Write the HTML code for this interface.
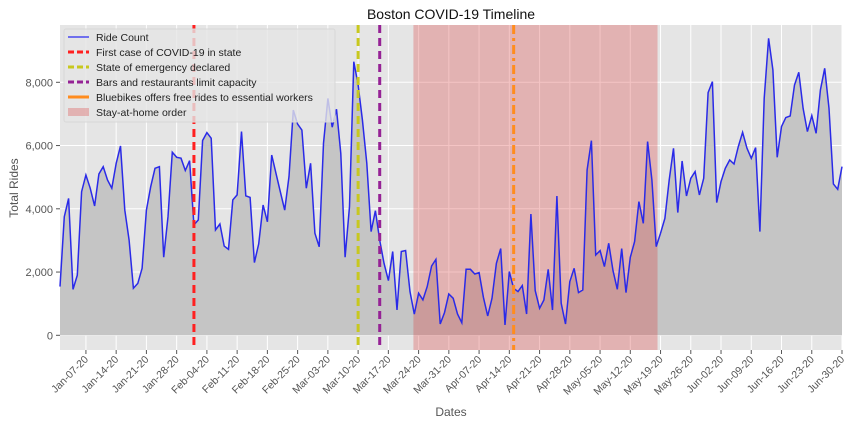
<!DOCTYPE html>
<html><head><meta charset="utf-8"><style>
body{margin:0;background:#fff;font-family:"Liberation Sans","DejaVu Sans",sans-serif;}
svg text{font-family:"Liberation Sans","DejaVu Sans",sans-serif;}
</style></head><body>
<svg id="c" width="868" height="426" viewBox="0 0 868 426" xmlns="http://www.w3.org/2000/svg"></svg>
<script>
const values=[1540,3750,4330,1450,1900,4540,5070,4650,4090,5100,5330,4910,4650,5440,5990,3960,3010,1490,1640,2120,3960,4700,5280,5330,2470,3750,5790,5630,5600,5210,5520,3490,3650,6160,6410,6230,3330,3520,2820,2720,4280,4440,6440,4410,4360,2300,2890,4120,3590,5700,5120,4540,3960,5020,7120,6680,6490,4650,5440,3230,2800,6070,7490,6580,7150,5750,2470,4070,8650,7920,6810,5440,3280,3940,3010,2280,1730,2650,800,2650,2680,1380,670,1330,1120,1540,2190,2400,
358,717,1307,1170,675,400,2087,2087,1939,1982,1202,611,1170,2277,2740,327,2013,1486,1381,1570,675,3837,1412,854,1117,2087,801,4406,1012,358,1697,2119,1349,1433,5228,6155,2540,2677,2171,2909,2045,1454,2740,1349,2466,2962,4227,3541,6124,4912,2804,3225,3700,4912,5913,3879,5512,4406,4964,5175,4437,4964,7673,8021,4195,4859,5281,5544,5418,5966,6419,5913,5597,5934,3278,7494,9391,8390,5628,6598,6883,6935,7915,8316,7178,6440,6946,6387,7757,8443,7178,4785,4617,5333];
const yTicks=[0,2000,4000,6000,8000];
const xTickDays=[6,13,20,27,34,41,48,55,62,69,76,83,90,97,104,111,118,125,132,139,146,153,160,167,174,181];
const xTickLabels=["Jan-07-20","Jan-14-20","Jan-21-20","Jan-28-20","Feb-04-20","Feb-11-20","Feb-18-20","Feb-25-20","Mar-03-20","Mar-10-20","Mar-17-20","Mar-24-20","Mar-31-20","Apr-07-20","Apr-14-20","Apr-21-20","Apr-28-20","May-05-20","May-12-20","May-19-20","May-26-20","Jun-02-20","Jun-09-20","Jun-16-20","Jun-23-20","Jun-30-20"];
const eventDays=[31,69,74,105];
const eventNames=["first-case-line","emergency-line","bars-limit-line","free-rides-line"];
const eventColors=["#ff2020","#c8c81e","#952295","#ff8c1e"];
const eventLabels=["First case of COVID-19 in state","State of emergency declared","Bars and restaurants limit capacity","Bluebikes offers free rides to essential workers","Stay-at-home order"];
const stayStart=81.8, stayEnd=138.3;

const L=60,R=842,T=25,B=350;
const x=d=>L+(d)*(R-L)/181;
const y=v=>335.3-v*253/8000;
const NS="http://www.w3.org/2000/svg";
const svg=document.getElementById('c');
function el(t,a,p){const e=document.createElementNS(NS,t);for(const k in a)e.setAttribute(k,a[k]);(p||svg).appendChild(e);return e;}

const bg=el('rect',{x:L,y:T,width:R-L,height:B-T,fill:'#e5e5e5'});


yTicks.forEach(v=>{
  const g=el('line',{x1:L,x2:R,y1:y(v),y2:y(v),stroke:'#fff','stroke-width':1});
  
  
  el('line',{x1:L-4,x2:L,y1:y(v),y2:y(v),stroke:'#555'});
  const t=el('text',{x:L-7,y:y(v)+4,'text-anchor':'end','font-size':11,fill:'#555'});
  t.textContent=v.toLocaleString('en-US');
  
  
});
xTickDays.forEach((d,i)=>{
  const g=el('line',{x1:x(d),x2:x(d),y1:T,y2:B,stroke:'#fff','stroke-width':1});
  
  
  el('line',{x1:x(d),x2:x(d),y1:B,y2:B+4,stroke:'#555'});
  const t=el('text',{x:x(d)+3,y:B+10,'text-anchor':'end','font-size':10.5,fill:'#555',transform:`rotate(-45 ${x(d)+3} ${B+10})`});
  t.textContent=xTickLabels[i];
  
  
});
// area fill
let pts=values.map((v,i)=>`${x(i).toFixed(1)},${y(v).toFixed(1)}`);
const area=el('polygon',{points:`${x(0)},${y(0)} ${pts.join(' ')} ${x(values.length-1)},${y(0)}`,fill:'#c5c5c5'});


const span=el('rect',{x:x(stayStart),y:T,width:x(stayEnd)-x(stayStart),height:B-T,fill:'rgba(220,60,60,0.3)'});


const line=el('polyline',{points:pts.join(' '),fill:'none',stroke:'#2a2ae8','stroke-width':1.5});


eventDays.forEach((d,i)=>{
  const dash=i==3?'9,4,3,4':'8,5';
  const e=el('line',{x1:x(d),x2:x(d),y1:T,y2:B,stroke:eventColors[i],'stroke-width':3,'stroke-dasharray':dash});
  
  
});
// legend
const lg=el('g',{});


el('rect',{x:64,y:29,width:271,height:93,fill:'#e5e5e5','fill-opacity':0.8,stroke:'#d8d8d8',rx:2},lg);
const entries=[{c:'#4a4af0',d:'none',w:1.5,l:'Ride Count'}].concat(eventColors.map((c,i)=>({c,d:i==3?'none':'6,3',w:3,l:eventLabels[i]})));
entries.forEach((e,i)=>{
  const yy=37+i*15;
  const g=el('g',{},lg);
  
  
  el('line',{x1:68,x2:89,y1:yy,y2:yy,stroke:e.c,'stroke-width':e.w,'stroke-dasharray':e.d},g);
  const t=el('text',{x:96,y:yy+4,'font-size':10.5,fill:'#222'},g);t.textContent=e.l;
});
const sg=el('g',{},lg);


el('rect',{x:68,y:108,width:21,height:8,fill:'rgba(220,60,60,0.3)'},sg);
const st=el('text',{x:96,y:116,'font-size':10.5,fill:'#222'},sg);st.textContent=eventLabels[4];
const title=el('text',{x:451,y:19,'text-anchor':'middle','font-size':14,fill:'#111'});
title.textContent='Boston COVID-19 Timeline';


const yt=el('text',{x:18,y:188,'text-anchor':'middle','font-size':12,fill:'#555',transform:'rotate(-90 18 188)'});
yt.textContent='Total Rides';


const xt=el('text',{x:451,y:416,'text-anchor':'middle','font-size':12,fill:'#555'});
xt.textContent='Dates';


</script>
</body></html>
